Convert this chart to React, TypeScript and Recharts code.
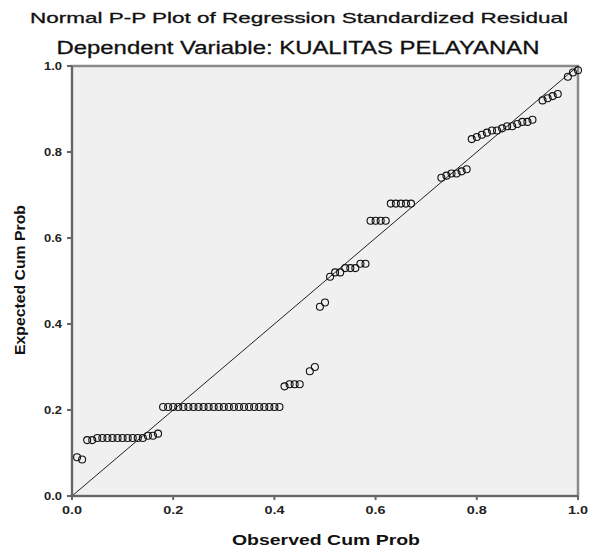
import {
  ReferenceArea,
  ReferenceLine,
  Scatter,
  ScatterChart,
  XAxis,
  YAxis,
} from "recharts";

const observedProb = [
  0.01, 0.02,
  0.03, 0.04, 0.05, 0.06, 0.07, 0.08, 0.09, 0.1, 0.11, 0.12, 0.13, 0.14, 0.15, 0.16, 0.17,
  0.18, 0.19, 0.2, 0.21, 0.22, 0.23, 0.24, 0.25, 0.26, 0.27, 0.28, 0.29, 0.3, 0.31, 0.32, 0.33,
  0.34, 0.35, 0.36, 0.37, 0.38, 0.39, 0.4, 0.41,
  0.42, 0.43, 0.44, 0.45, 0.47, 0.48,
  0.49, 0.5,
  0.51, 0.52, 0.53, 0.54, 0.55, 0.56, 0.57, 0.58,
  0.59, 0.6, 0.61, 0.62,
  0.63, 0.64, 0.65, 0.66, 0.67,
  0.73, 0.74, 0.75, 0.76, 0.77, 0.78,
  0.79, 0.8, 0.81, 0.82, 0.83, 0.84, 0.85, 0.86, 0.87, 0.88, 0.89, 0.9, 0.91,
  0.93, 0.94, 0.95, 0.96,
  0.98, 0.99, 1.0,
];

const expectedProb = [
  0.09, 0.085,
  0.13, 0.13, 0.135, 0.135, 0.135, 0.135, 0.135, 0.135, 0.135, 0.135, 0.135, 0.135, 0.14, 0.14, 0.145,
  0.207, 0.207, 0.207, 0.207, 0.207, 0.207, 0.207, 0.207, 0.207, 0.207, 0.207, 0.207, 0.207, 0.207, 0.207, 0.207,
  0.207, 0.207, 0.207, 0.207, 0.207, 0.207, 0.207, 0.207,
  0.255, 0.26, 0.26, 0.26, 0.29, 0.3,
  0.44, 0.45,
  0.51, 0.52, 0.52, 0.53, 0.53, 0.53, 0.54, 0.54,
  0.64, 0.64, 0.64, 0.64,
  0.68, 0.68, 0.68, 0.68, 0.68,
  0.74, 0.745, 0.75, 0.75, 0.755, 0.76,
  0.83, 0.835, 0.84, 0.845, 0.85, 0.85, 0.855, 0.86, 0.86, 0.865, 0.87, 0.87, 0.875,
  0.92, 0.925, 0.93, 0.935,
  0.975, 0.985, 0.99,
];

const axisTicks = [0, 0.2, 0.4, 0.6, 0.8, 1.0];

const points = observedProb.map((obs, i) => ({ obs, exp: expectedProb[i] }));

const font = "'Liberation Sans', Arial, sans-serif";

function Ring(props: any) {
  const { cx, cy } = props;
  if (cx == null || cy == null) return <g />;
  return <circle cx={cx} cy={cy} r={3.5} fill="none" stroke="#111" strokeWidth={1.1} />;
}

function XTick(props: any) {
  const { x, y, payload } = props;
  return (
    <text x={x} y={y + 12} textAnchor="middle" fontFamily={font} fontWeight="bold" fontSize={11} fill="#222"
      textLength={20} lengthAdjust="spacingAndGlyphs">
      {Number(payload.value).toFixed(1)}
    </text>
  );
}

function YTick(props: any) {
  const { x, y, payload } = props;
  return (
    <text x={x - 3} y={y + 4} textAnchor="end" fontFamily={font} fontWeight="bold" fontSize={11} fill="#222"
      textLength={18} lengthAdjust="spacingAndGlyphs">
      {Number(payload.value).toFixed(1)}
    </text>
  );
}

export default function App() {
  return (
    <div style={{ position: "absolute", left: 0, top: 0, width: 598, height: 556, background: "#fff" }}>
      <ScatterChart width={598} height={556} margin={{ top: 66, right: 20, bottom: 30, left: 12 }}>
        <ReferenceArea x1={0} x2={1} y1={0} y2={1} fill="#f0f0f0" fillOpacity={1} stroke="#8a8a8a" strokeWidth={2.5} />
        <XAxis
          type="number"
          dataKey="obs"
          domain={[0, 1]}
          ticks={axisTicks}
          height={30}
          stroke="#666"
          strokeWidth={2}
          tickSize={4}
          tick={<XTick />}
        />
        <YAxis
          type="number"
          dataKey="exp"
          domain={[0, 1]}
          ticks={axisTicks}
          width={60}
          stroke="#666"
          strokeWidth={2}
          tickSize={5}
          tick={<YTick />}
        />
        <ReferenceLine segment={[{ x: 0, y: 0 }, { x: 1, y: 1 }]} stroke="#222" strokeWidth={1} />
        <Scatter data={points} shape={<Ring />} isAnimationActive={false} />
      </ScatterChart>
      <svg width={598} height={556} style={{ position: "absolute", left: 0, top: 0, pointerEvents: "none" }}>
        <text x={299} y={23} textAnchor="middle" fontFamily={font} fontSize={15} fill="#111"
          stroke="#111" strokeWidth={0.3} textLength={538} lengthAdjust="spacingAndGlyphs">
          Normal P-P Plot of Regression Standardized Residual
        </text>
        <text x={298} y={54} textAnchor="middle" fontFamily={font} fontSize={18} fill="#111"
          stroke="#111" strokeWidth={0.3} textLength={483} lengthAdjust="spacingAndGlyphs">
          Dependent Variable: KUALITAS PELAYANAN
        </text>
        <text x={326} y={545} textAnchor="middle" fontFamily={font} fontWeight="bold" fontSize={15} fill="#111"
          textLength={188} lengthAdjust="spacingAndGlyphs">
          Observed Cum Prob
        </text>
        <text x={0} y={0} transform="translate(25 280) rotate(-90)" textAnchor="middle" fontFamily={font}
          fontWeight="bold" fontSize={14} fill="#111" textLength={150} lengthAdjust="spacingAndGlyphs">
          Expected Cum Prob
        </text>
      </svg>
    </div>
  );
}
